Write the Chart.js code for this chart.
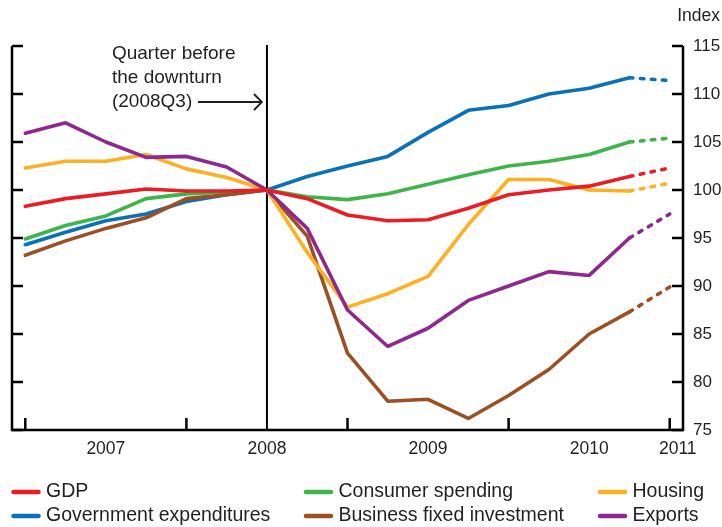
<!DOCTYPE html>
<html>
<head>
<meta charset="utf-8">
<script src="https://cdn.jsdelivr.net/npm/chart.js@4.4.1/dist/chart.umd.min.js"></script>
<style>
  html, body { margin: 0; padding: 0; background: #fff; }
  #wrap { width: 722px; height: 527px; position: relative; }
</style>
</head>
<body>
<div id="wrap"><canvas id="c" width="722" height="527"></canvas></div>
<script>
// ---- Data ----
const quarters = ['2007Q1','2007Q2','2007Q3','2007Q4','2008Q1','2008Q2','2008Q3','2008Q4',
                  '2009Q1','2009Q2','2009Q3','2009Q4','2010Q1','2010Q2','2010Q3','2010Q4','2011Q1'];
const gdp       = [98.3, 99.1, 99.6, 100.1, 99.9, 99.9, 100, 99.1, 97.4, 96.8, 96.9, 98.1, 99.5, 100.0, 100.4, 101.4, 102.3];
const consumer  = [94.9, 96.3, 97.3, 99.1, 99.6, 99.8, 100, 99.3, 99.0, 99.6, 100.6, 101.6, 102.5, 103.0, 103.7, 105.0, 105.4];
const housing   = [102.3, 103.0, 103.0, 103.7, 102.2, 101.3, 100, 93.5, 87.8, 89.2, 91.0, 96.4, 101.1, 101.1, 100.0, 99.9, 100.7];
const government= [94.3, 95.6, 96.8, 97.5, 98.8, 99.5, 100, 101.4, 102.5, 103.5, 106.0, 108.3, 108.8, 110.0, 110.6, 111.7, 111.4];
const business  = [93.2, 94.7, 96.0, 97.1, 99.1, 99.5, 100, 95.2, 83.0, 78.0, 78.2, 76.2, 78.6, 81.3, 85.0, 87.3, 89.9];
const exportsS  = [105.9, 107.0, 105.0, 103.4, 103.5, 102.4, 100, 96.0, 87.5, 83.7, 85.6, 88.5, 90.0, 91.5, 91.1, 95.0, 97.5];

const seriesNames  = ['GDP', 'Consumer spending', 'Housing', 'Government expenditures', 'Business fixed investment', 'Exports'];
const seriesValues = [gdp, consumer, housing, government, business, exportsS];
const seriesColors = ['#EC1C24', '#3DB54A', '#FDB022', '#0B71B6', '#9C4F23', '#8E278F'];

const yearLabels     = ['2007', '2008', '2009', '2010', '2011'];
const yearLabelPos   = [2, 6, 10, 14, 16.2];
const yearBoundaries = [0, 4, 8, 12, 16];
const yTicks         = [75, 80, 85, 90, 95, 100, 105, 110, 115];
const forecastStart  = 15;   // last segment (2010Q4 -> 2011Q1) dashed
const downturnIndex  = 6;    // 2008Q3
const annotationLines = ['Quarter before', 'the downturn', '(2008Q3)'];

const FONT = '"Liberation Sans", Arial, Helvetica, sans-serif';
const INK = '#231F20';

const datasets = seriesNames.map((name, i) => ({
  label: name,
  data: seriesValues[i].map((v, k) => ({ x: k, y: v })),
  borderColor: seriesColors[i],
  backgroundColor: seriesColors[i],
  borderWidth: 3.6,
  pointRadius: 0,
  tension: 0,
  borderJoinStyle: 'round',
  borderCapStyle: 'round',
  fill: false,
  segment: {
    borderDash: ctx => ctx.p0DataIndex >= forecastStart ? [3.5, 7.5] : undefined
  }
}));
// draw order: GDP on top
const drawOrder = [0, 5, 2, 4, 1, 3];
drawOrder.forEach((di, k) => { datasets[di].order = k; });

const decor = {
  id: 'decor',
  beforeDatasetsDraw(chart) {
    const { ctx, chartArea: a, scales: { x, y } } = chart;
    ctx.save();
    ctx.strokeStyle = '#000';
    ctx.lineWidth = 2.5;
    ctx.lineJoin = 'miter';
    ctx.beginPath();
    ctx.moveTo(a.left, a.top);
    ctx.lineTo(a.left, a.bottom);
    ctx.lineTo(a.right, a.bottom);
    ctx.lineTo(a.right, a.top);
    ctx.stroke();
    ctx.beginPath();
    yTicks.forEach(v => {
      const py = y.getPixelForValue(v);
      ctx.moveTo(a.left, py); ctx.lineTo(a.left + 11, py);
      ctx.moveTo(a.right - 11, py); ctx.lineTo(a.right, py);
    });
    yearBoundaries.forEach(v => {
      const px = x.getPixelForValue(v);
      ctx.moveTo(px, a.bottom); ctx.lineTo(px, a.bottom - 12);
    });
    ctx.stroke();
    const vx = x.getPixelForValue(downturnIndex);
    ctx.lineWidth = 2;
    ctx.beginPath();
    ctx.moveTo(vx, a.top - 1); ctx.lineTo(vx, a.bottom);
    ctx.stroke();
    ctx.restore();
  },
  afterDraw(chart) {
    const { ctx, chartArea: a, scales: { x } } = chart;
    ctx.save();
    ctx.fillStyle = INK;
    ctx.strokeStyle = INK;
    const vx = x.getPixelForValue(downturnIndex);
    ctx.font = '19px ' + FONT;
    ctx.textBaseline = 'middle';
    ctx.textAlign = 'left';
    const tx = vx - 155;
    annotationLines.forEach((t, i) => ctx.fillText(t, tx, a.top + 8 + i * 24));
    const ay = a.top + 8 + 2 * 24;
    ctx.lineWidth = 1.8;
    ctx.beginPath();
    ctx.moveTo(vx - 69, ay); ctx.lineTo(vx - 5, ay);
    ctx.moveTo(vx - 13, ay - 8); ctx.lineTo(vx - 5, ay); ctx.lineTo(vx - 13, ay + 8);
    ctx.stroke();
    ctx.font = '17.5px ' + FONT;
    ctx.textAlign = 'right';
    ctx.fillText('Index', 720, 16);
    const colX = [11.5, 304, 598];
    const rowY = [492, 516];
    const layout = [[0, 1, 2], [3, 4, 5]];
    ctx.font = '19.5px ' + FONT;
    ctx.textAlign = 'left';
    ctx.lineCap = 'round';
    ctx.lineWidth = 4.5;
    layout.forEach((row, r) => row.forEach((si, c) => {
      ctx.strokeStyle = seriesColors[si];
      ctx.beginPath();
      ctx.moveTo(colX[c] + 2, rowY[r]); ctx.lineTo(colX[c] + 27, rowY[r]);
      ctx.stroke();
      ctx.fillStyle = INK;
      ctx.fillText(seriesNames[si], colX[c] + 34.5, rowY[r]);
    }));
    ctx.restore();
  }
};

Chart.defaults.font.family = FONT;
Chart.defaults.color = INK;

new Chart(document.getElementById('c'), {
  type: 'line',
  data: { datasets },
  options: {
    responsive: false,
    animation: false,
    events: [],
    layout: { padding: { left: 12, top: 46, right: 0, bottom: 67.5 } },
    plugins: { legend: { display: false }, tooltip: { enabled: false }, title: { display: false } },
    scales: {
      x: {
        type: 'linear',
        min: -0.33, max: 16.33,
        grid: { display: false, drawTicks: false },
        border: { display: false },
        afterBuildTicks: s => { s.ticks = yearLabelPos.map(v => ({ value: v })); },
        afterFit: s => { s.height = 29.5; },
        ticks: {
          autoSkip: false, maxRotation: 0, padding: 8.5,
          font: { size: 17.5 }, color: INK,
          callback: (v, i) => yearLabels[i]
        }
      },
      y: {
        type: 'linear',
        position: 'right',
        min: 75, max: 115,
        grid: { display: false, drawTicks: false },
        border: { display: false },
        afterBuildTicks: s => { s.ticks = yTicks.map(v => ({ value: v })); },
        afterFit: s => { s.width = 39; },
        ticks: { padding: 10, font: { size: 17 }, color: INK, callback: v => String(v) }
      }
    }
  },
  plugins: [decor]
});
</script>
</body>
</html>
